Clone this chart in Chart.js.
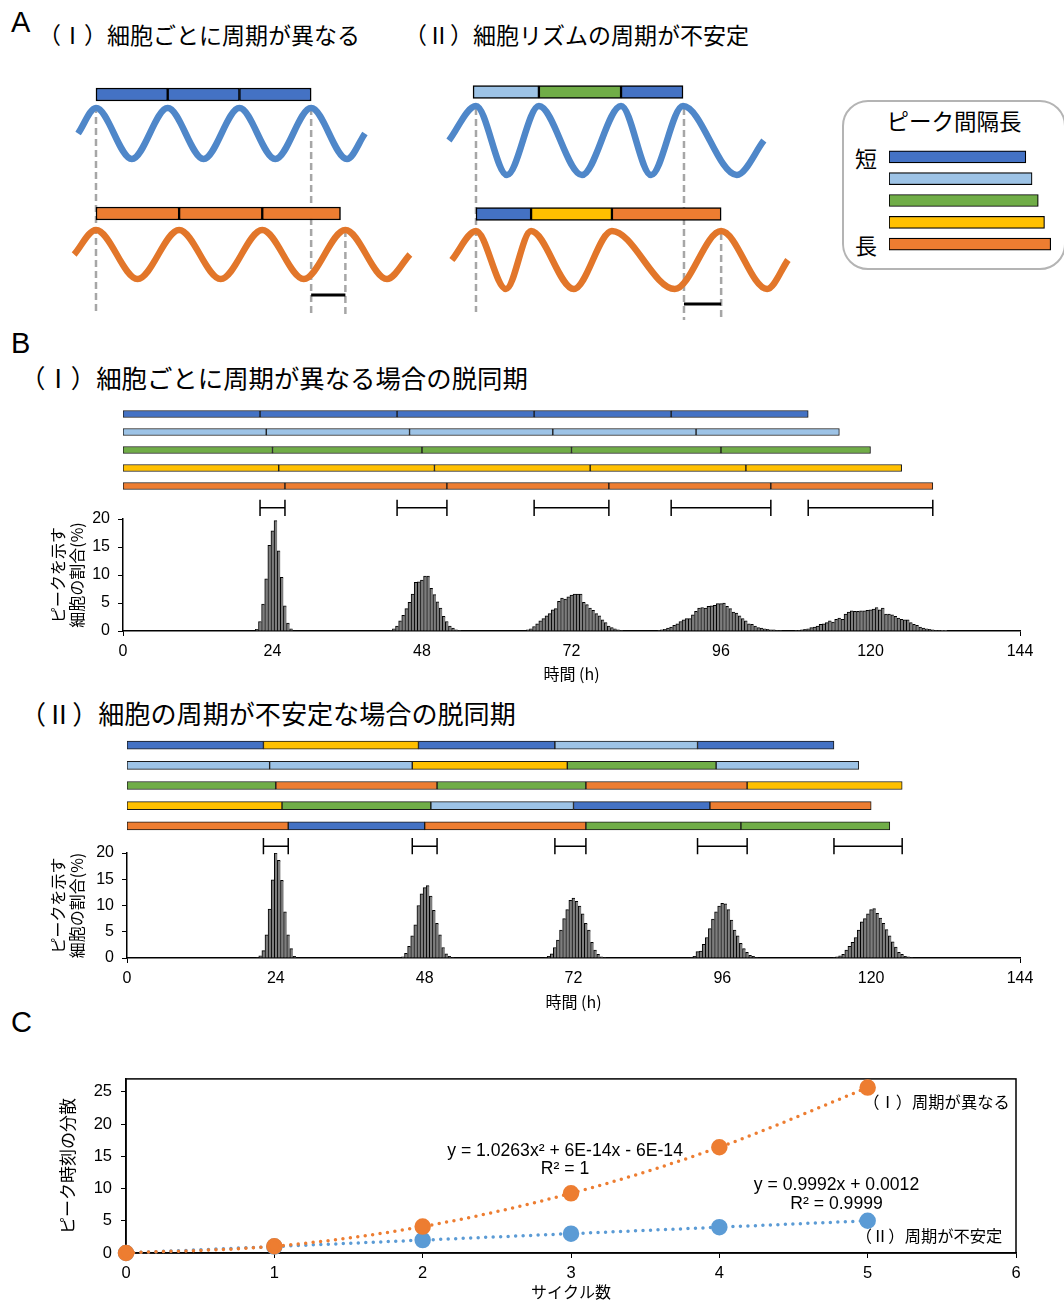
<!DOCTYPE html>
<html lang="ja">
<head>
<meta charset="utf-8">
<title>細胞リズムの脱同期</title>
<script src="https://cdn.jsdelivr.net/npm/chart.js@4.4.1/dist/chart.umd.min.js"></script>
<style>
  body { margin: 0; background: #fff; }
  #page { position: relative; width: 1064px; height: 1302px; overflow: hidden; color: #000;
          font-family: 'Liberation Sans', 'Noto Sans CJK JP', sans-serif; }
  #page canvas, .t { position: absolute; }
  .t { white-space: nowrap; line-height: 1; }
  .jp { font-family: 'Noto Sans CJK JP', sans-serif; }
  .panel { font-size: 29px; }
  #legendBox { position: absolute; left: 842px; top: 100px; width: 224px; height: 170px;
               border: 2px solid #b4b4b4; border-radius: 26px; box-sizing: border-box; }
</style>
</head>
<body>
<div id="page">
  <div id="legendBox"></div>

  <div class="t panel" style="left:11px;top:8px">A</div>
  <div class="t jp" style="left:38px;top:23px;font-size:23px">（Ⅰ）細胞ごとに周期が異なる</div>
  <div class="t jp" style="left:404px;top:23px;font-size:23px">（Ⅱ）細胞リズムの周期が不安定</div>
  <div class="t jp" style="left:842px;top:109px;width:224px;text-align:center;font-size:22.5px">ピーク間隔長</div>
  <div class="t jp" style="left:855px;top:146px;font-size:22px">短</div>
  <div class="t jp" style="left:855px;top:233px;font-size:22px">長</div>

  <div class="t panel" style="left:11px;top:329px">B</div>
  <div class="t jp" style="left:20px;top:365px;font-size:25.4px">（Ⅰ）細胞ごとに周期が異なる場合の脱同期</div>
  <div class="t jp" style="left:20px;top:700px;font-size:26.1px">（Ⅱ）細胞の周期が不安定な場合の脱同期</div>

  <div class="t panel" style="left:11px;top:1008px">C</div>

  <canvas id="schemeI" width="360" height="250" style="left:60px;top:80px"></canvas>
  <canvas id="schemeII" width="360" height="250" style="left:440px;top:80px"></canvas>
  <canvas id="legendBars" width="178" height="109" style="left:886px;top:146px"></canvas>

  <canvas id="rowsI" width="907" height="90" style="left:118px;top:405px"></canvas>
  <canvas id="histI" width="1010" height="200" style="left:40px;top:495px"></canvas>
  <canvas id="rowsII" width="903" height="101" style="left:122px;top:735px"></canvas>
  <canvas id="histII" width="1010" height="192" style="left:40px;top:830px"></canvas>

  <canvas id="variance" width="1010" height="242" style="left:40px;top:1060px"></canvas>
</div>

<script>
// ピーク間隔（h）：短 → 長
const periods = [22, 23, 24, 25, 26];
const periodColors = ['#4472C4', '#9DC3E6', '#70AD47', '#FFC000', '#ED7D31'];

// A 模式図：ピークと谷の時刻 (h)、描き始めと描き終わり
const waveI1 = { peaks: [0, 22, 44, 66], troughs: [11, 33, 55, 77], from: -5.5, to: 82.5 };
const waveI2 = { peaks: [0, 25.5, 51, 76.5], troughs: [12.75, 38.25, 63.75, 89.25], from: -6.7, to: 96.3 };
const waveII1 = { peaks: [0, 19.3, 44.5, 63.5], troughs: [9.5, 32.5, 53.7, 80], from: -8.3, to: 88.3 };
const waveII2 = { peaks: [0, 16.9, 41.7, 75.2], troughs: [9.2, 30, 61, 89.3], from: -7.4, to: 95.7 };
// 区間の境界 (h) と色番号
const barI1 = { edges: [0, 22, 44, 66], colors: [0, 0, 0] };
const barI2 = { edges: [0, 25.5, 51, 75], colors: [4, 4, 4] };
const barII1 = { edges: [-0.9, 19.3, 44.5, 63.5], colors: [1, 2, 0] };
const barII2 = { edges: [0, 16.9, 41.7, 75.2], colors: [0, 3, 4] };
const guidesI = [0, 66, 76.5];
const guidesII = [0, 63.8, 75.2];

// B 各細胞のピーク間隔 (h)
const cyclesI = [
  [22, 22, 22, 22, 22],
  [23, 23, 23, 23, 23],
  [24, 24, 24, 24, 24],
  [25, 25, 25, 25, 25],
  [26, 26, 26, 26, 26]
];
const colorsI = [
  [0, 0, 0, 0, 0],
  [1, 1, 1, 1, 1],
  [2, 2, 2, 2, 2],
  [3, 3, 3, 3, 3],
  [4, 4, 4, 4, 4]
];
const cyclesII = [
  [22, 25, 22, 23, 22],
  [23, 23, 25, 24, 23],
  [24, 26, 24, 26, 25],
  [25, 24, 23, 22, 26],
  [26, 22, 26, 25, 24]
];
const colorsII = [
  [0, 3, 0, 1, 0],
  [1, 1, 3, 2, 1],
  [2, 4, 2, 4, 3],
  [3, 2, 1, 0, 4],
  [4, 0, 4, 2, 2]
];

// B ヒストグラム：0.5 h 刻み、各ピークの開始時刻と割合 (%)
const binWidth = 0.5;
const timeTicks = [0, 24, 48, 72, 96, 120, 144];
const histI1 = [0.3, 1.7, 4.8, 9.3, 15.3, 17.9, 19.7, 14.3, 9.6, 4.5, 1.4, 0.4];
const histI2 = [0.1, 0.4, 0.9, 1.8, 2.8, 4.0, 5.1, 6.6, 8.7, 8.8, 9.1, 9.8, 9.8, 7.6, 6.5, 5.2, 4.1, 2.6, 1.7, 0.9, 0.5, 0.2, 0.1];
const histI3 = [0.2, 0.4, 0.8, 1.3, 1.8, 2.2, 2.7, 3.1, 3.8, 4.0, 5.3, 5.9, 5.7, 6.1, 6.4, 6.6, 6.6, 6.6, 5.1, 4.7, 4.1, 3.7, 3.1, 2.7, 2.0, 1.5, 0.9, 0.6, 0.4, 0.2, 0.1];
const histI4 = [0.1, 0.2, 0.3, 0.5, 0.7, 1.0, 1.3, 1.7, 2.0, 2.2, 2.2, 2.9, 3.5, 4.1, 4.2, 4.1, 4.4, 4.5, 4.6, 4.9, 4.9, 5.0, 4.4, 4.0, 3.4, 3.2, 2.7, 2.2, 1.8, 1.3, 1.2, 0.9, 0.6, 0.5, 0.4, 0.3, 0.2, 0.2, 0.1, 0.1];
const histI5 = [0.1, 0.1, 0.2, 0.3, 0.4, 0.6, 0.7, 0.9, 1.2, 1.3, 1.5, 1.8, 1.6, 2.1, 2.3, 2.1, 3.0, 3.4, 3.6, 3.5, 3.5, 3.6, 3.6, 3.7, 3.8, 3.9, 4.2, 3.8, 4.1, 3.0, 3.0, 2.9, 2.6, 2.3, 2.1, 2.0, 2.0, 1.5, 1.2, 1.0, 0.7, 0.5, 0.4, 0.3, 0.2, 0.1, 0.1, 0.05, 0.05];
const histIStarts = [21.5, 43, 65, 86, 108];

const histII1 = [0.1, 0.4, 1.4, 4.4, 9.3, 14.9, 20.0, 18.6, 14.8, 8.8, 4.4, 1.8, 0.3];
const histII2 = [0.2, 0.9, 2.2, 4.2, 6.3, 10.0, 12.2, 13.4, 13.8, 11.8, 9.1, 6.6, 4.4, 2.0, 0.8, 0.3, 0.1];
const histII3 = [0.1, 0.3, 0.8, 2.0, 3.4, 5.3, 7.5, 9.2, 11.0, 11.4, 10.8, 9.9, 8.4, 6.6, 5.3, 3.0, 1.5, 0.7, 0.2, 0.1];
const histII4 = [0.1, 0.3, 1.2, 1.3, 2.6, 3.9, 5.6, 7.4, 8.8, 9.9, 10.4, 10.3, 9.2, 7.2, 5.3, 4.2, 2.8, 1.8, 1.1, 0.5, 0.3, 0.1];
const histII5 = [0.1, 0.2, 0.4, 0.7, 1.5, 2.2, 3.0, 3.9, 5.3, 6.9, 7.5, 8.4, 9.2, 9.4, 8.5, 7.6, 6.6, 5.4, 4.2, 3.1, 2.1, 1.1, 0.7, 0.3, 0.2, 0.1];
const histIIStarts = [21, 44.5, 67.5, 91, 114];

// C ピーク時刻の分散
const cycleNumbers = [0, 1, 2, 3, 4, 5];
const varianceI = [0, 1.05, 4.1, 9.25, 16.4, 25.65];
const varianceII = [0, 1.0, 2.0, 3.0, 4.0, 5.0];
const varianceTicks = [0, 5, 10, 15, 20, 25];

const fontLatin = "'Liberation Sans', 'Noto Sans CJK JP', sans-serif";
const fontJp = "'Noto Sans CJK JP', 'Liberation Sans', sans-serif";
Chart.defaults.font.family = fontLatin;
Chart.defaults.color = '#000';
Chart.defaults.animation = false;
Chart.defaults.responsive = false;
Chart.defaults.plugins.legend.display = false;
Chart.defaults.plugins.tooltip.enabled = false;

// ---------- A ----------
const aPxPerHour = 3.26;
const aMin = -11.04;

function wavePoints(w, center, amp) {
  const pts = [{ x: w.from, y: center }, { x: w.to, y: center }];
  w.peaks.forEach(t => pts.push({ x: t, y: center - amp }));
  w.troughs.forEach(t => pts.push({ x: t, y: center + amp }));
  return pts.sort((a, b) => a.x - b.x);
}

function scheme(id, s) {
  const ds = [];
  s.waves.forEach(w => ds.push({
    type: 'line', data: wavePoints(w.wave, w.center, w.amp), borderColor: w.color,
    borderWidth: 6.5, pointRadius: 0, cubicInterpolationMode: 'monotone', order: 1
  }));
  s.bars.forEach(b => {
    const data = [], colors = [];
    for (let i = 0; i < b.bar.edges.length - 1; i++) {
      data.push({ x: [b.bar.edges[i], b.bar.edges[i + 1]], y: b.y });
      colors.push(periodColors[b.bar.colors[i]]);
    }
    ds.push({ type: 'bar', indexAxis: 'y', data, backgroundColor: colors, borderColor: '#000',
      borderWidth: 1.5, borderSkipped: false, barThickness: 13, grouped: false, order: 2 });
  });
  s.guides.forEach(g => ds.push({
    type: 'line', data: [{ x: g.t, y: g.y0 }, { x: g.t, y: g.y1 }], borderColor: '#a6a6a6',
    borderWidth: 2.5, borderDash: [7, 4], pointRadius: 0, order: 3
  }));
  ds.push({ type: 'line', data: [{ x: s.scaleBar[0], y: s.scaleY }, { x: s.scaleBar[1], y: s.scaleY }],
    borderColor: '#000', borderWidth: 3, pointRadius: 0, order: 0 });

  new Chart(document.getElementById(id), {
    type: 'line',
    data: { datasets: ds },
    options: {
      layout: { padding: 0, autoPadding: false },
      scales: {
        x: { type: 'linear', display: false, offset: false, min: aMin, max: aMin + 360 / aPxPerHour },
        y: { type: 'linear', display: false, offset: false, reverse: true, min: 0, max: 250 }
      }
    }
  });
}

scheme('schemeI', {
  waves: [
    { wave: waveI1, center: 53.5, amp: 25.5, color: '#4f87c9' },
    { wave: waveI2, center: 174.5, amp: 24.5, color: '#e2762a' }
  ],
  bars: [{ bar: barI1, y: 14.5 }, { bar: barI2, y: 133.5 }],
  guides: [
    { t: guidesI[0], y0: 26, y1: 232 },
    { t: guidesI[1], y0: 28, y1: 236 },
    { t: guidesI[2], y0: 150, y1: 236 }
  ],
  scaleBar: [guidesI[1], guidesI[2]], scaleY: 215
});

scheme('schemeII', {
  waves: [
    { wave: waveII1, center: 60.5, amp: 34.5, color: '#4f87c9' },
    { wave: waveII2, center: 180, amp: 29, color: '#e2762a' }
  ],
  bars: [{ bar: barII1, y: 12 }, { bar: barII2, y: 134 }],
  guides: [
    { t: guidesII[0], y0: 28, y1: 232 },
    { t: guidesII[1], y0: 28, y1: 240 },
    { t: guidesII[2], y0: 153, y1: 240 }
  ],
  scaleBar: [guidesII[1], guidesII[2]], scaleY: 224
});

// 凡例：ピーク間隔の長さを棒で
new Chart(document.getElementById('legendBars'), {
  type: 'bar',
  data: {
    labels: periods.map(String),
    datasets: [{ data: periods, backgroundColor: periodColors, borderColor: '#000', borderWidth: 1.2,
      borderSkipped: false, barThickness: 12 }]
  },
  options: {
    indexAxis: 'y',
    layout: { padding: { left: 3 } },
    scales: { x: { display: false, min: 0, max: 175 / 6.22 }, y: { display: false } }
  }
});

// ---------- B ----------
function rowsChart(id, cycles, colorIdx, thickness) {
  const labels = cycles.map((_, i) => 'cell' + (i + 1));
  const data = [], colors = [];
  cycles.forEach((row, r) => {
    let t = 0;
    row.forEach((len, k) => {
      data.push({ x: [t, t + len], y: labels[r] });
      colors.push(periodColors[colorIdx[r][k]]);
      t += len;
    });
  });
  new Chart(document.getElementById(id), {
    type: 'bar',
    data: { labels, datasets: [{ data, backgroundColor: colors, borderColor: '#1a1a1a', borderWidth: 1,
      borderSkipped: false, barThickness: thickness, grouped: false }] },
    options: {
      indexAxis: 'y',
      layout: { padding: { left: 5, right: 5 } },
      scales: { x: { type: 'linear', display: false, min: 0, max: 144 }, y: { display: false } }
    }
  });
}

// 各サイクルでのピーク時刻の最小〜最大
function spreads(cycles) {
  const out = [];
  for (let k = 1; k <= cycles[0].length; k++) {
    const ends = cycles.map(row => row.slice(0, k).reduce((a, b) => a + b, 0));
    out.push([Math.min(...ends), Math.max(...ends)]);
  }
  return out;
}

function histChart(id, peaks, starts, cycles, o) {
  const pts = [];
  peaks.forEach((vals, p) => vals.forEach((v, i) => pts.push({ x: starts[p] + i * binWidth, y: v })));
  const datasets = [{
    type: 'bar', data: pts, backgroundColor: '#7d7d7d', borderColor: '#000',
    borderWidth: { left: 1, top: 1, right: 0, bottom: 0 }, borderSkipped: false,
    barPercentage: 1, categoryPercentage: 1, order: 1
  }];
  // 範囲を示す括弧（両端の縦線つき）
  const h = o.capHalf, y = o.bracketY;
  spreads(cycles).forEach(([a, b]) => datasets.push({
    type: 'line',
    data: [{ x: a, y: y + h }, { x: a, y: y - h }, { x: a, y }, { x: b, y }, { x: b, y: y + h }, { x: b, y: y - h }],
    borderColor: '#000', borderWidth: 1.5, pointRadius: 0, clip: false, order: 0
  }));
  new Chart(document.getElementById(id), {
    type: 'bar',
    data: { datasets },
    options: {
      layout: { padding: { top: o.padTop, right: 30, left: 0, bottom: 0 } },
      scales: {
        x: {
          type: 'linear', min: 0, max: 144, offset: false,
          afterBuildTicks: a => { a.ticks = timeTicks.map(v => ({ value: v })); },
          afterFit: a => { a.height = 64; },
          grid: { offset: false, drawOnChartArea: false, tickLength: 5,
            tickColor: c => (c.tick && (c.tick.value === 0 || c.tick.value === 144)) ? '#000' : 'rgba(0,0,0,0)' },
          border: { color: '#000', width: 1.5 },
          ticks: { font: { size: 16 }, color: '#000', padding: 6, maxRotation: 0 },
          title: { display: true, text: '時間 (h)', font: { size: 16, family: fontJp, lineHeight: 1.25 },
            color: '#000', padding: { top: 0, bottom: o.titleBottom } }
        },
        y: {
          min: 0, max: 20,
          afterFit: a => { a.width = o.yWidth; },
          grid: { drawOnChartArea: false, tickLength: 5, tickColor: '#000' },
          border: { color: '#000', width: 1.5 },
          ticks: { stepSize: 5, font: { size: 16 }, color: '#000', padding: 8 },
          title: { display: true, text: ['ピークを示す', '細胞の割合(%)'],
            font: { size: 16, family: fontJp, lineHeight: 1.2 }, color: '#000', padding: { top: 8, bottom: 0 } }
        }
      }
    }
  });
}

rowsChart('rowsI', cyclesI, colorsI, 7);
histChart('histI', [histI1, histI2, histI3, histI4, histI5], histIStarts, cyclesI,
  { padTop: 24, yWidth: 83, bracketY: 22, capHalf: 1.45, titleBottom: 11 });
rowsChart('rowsII', cyclesII, colorsII, 8);
histChart('histII', [histII1, histII2, histII3, histII4, histII5], histIIStarts, cyclesII,
  { padTop: 23, yWidth: 87, bracketY: 21.3, capHalf: 1.55, titleBottom: 10 });

// ---------- C ----------
const cNotes = [
  { text: 'y = 1.0263x² + 6E-14x - 6E-14', x: 2.96, y: 15.85, align: 'center' },
  { text: 'R² = 1', x: 2.96, y: 12.95, align: 'center' },
  { text: 'y = 0.9992x + 0.0012', x: 4.79, y: 10.5, align: 'center' },
  { text: 'R² = 0.9999', x: 4.79, y: 7.6, align: 'center' },
  { text: '（Ⅰ）周期が異なる', x: 4.97, y: 23.4, align: 'left', jp: true },
  { text: '（Ⅱ）周期が不安定', x: 4.92, y: 2.6, align: 'left', jp: true }
];

const framePlugin = {
  id: 'frame',
  beforeDatasetsDraw(chart) {
    const { ctx, chartArea: a } = chart;
    ctx.save();
    ctx.strokeStyle = '#000';
    ctx.lineWidth = 1.5;
    ctx.strokeRect(a.left, a.top, a.width, a.height);
    ctx.restore();
  }
};
const notesPlugin = {
  id: 'notes',
  afterDatasetsDraw(chart) {
    const { ctx, scales: { x, y } } = chart;
    ctx.save();
    ctx.fillStyle = '#000';
    ctx.textBaseline = 'middle';
    cNotes.forEach(n => {
      ctx.font = n.jp ? '16.3px ' + fontJp : '17.6px ' + fontLatin;
      ctx.textAlign = n.align;
      ctx.fillText(n.text, x.getPixelForValue(n.x), y.getPixelForValue(n.y));
    });
    ctx.restore();
  }
};

new Chart(document.getElementById('variance'), {
  type: 'scatter',
  data: {
    datasets: [
      { data: cycleNumbers.map((c, i) => ({ x: c, y: varianceI[i] })), showLine: true,
        borderColor: '#ED7D31', backgroundColor: '#ED7D31', pointBackgroundColor: '#ED7D31',
        pointBorderColor: '#ED7D31', pointRadius: 6.5, borderWidth: 3.5, borderDash: [0, 7.5],
        borderCapStyle: 'round', cubicInterpolationMode: 'monotone', clip: false },
      { data: cycleNumbers.map((c, i) => ({ x: c, y: varianceII[i] })), showLine: true,
        borderColor: '#5B9BD5', backgroundColor: '#5B9BD5', pointBackgroundColor: '#5B9BD5',
        pointBorderColor: '#5B9BD5', pointRadius: 6.5, borderWidth: 3.5, borderDash: [0, 7.5],
        borderCapStyle: 'round', clip: false }
    ]
  },
  options: {
    layout: { padding: { top: 17, right: 34, left: 0, bottom: 0 } },
    scales: {
      x: {
        min: 0, max: 6,
        afterFit: a => { a.height = 49; },
        grid: { drawOnChartArea: false, tickLength: 5, tickColor: '#000' },
        border: { color: '#000', width: 1.5 },
        ticks: { stepSize: 1, font: { size: 16.5 }, color: '#000', padding: 6 },
        title: { display: true, text: 'サイクル数', font: { size: 16, family: fontJp, lineHeight: 1.25 },
          color: '#000', padding: { top: 0, bottom: 0 } }
      },
      y: {
        min: 0, max: 27,
        afterBuildTicks: a => { a.ticks = varianceTicks.map(v => ({ value: v })); },
        afterFit: a => { a.width = 86; },
        grid: { drawOnChartArea: false, tickLength: 5, tickColor: '#000' },
        border: { color: '#000', width: 1.5 },
        ticks: { font: { size: 16.5 }, color: '#000', padding: 9 },
        title: { display: true, text: 'ピーク時刻の分散', font: { size: 17, family: fontJp, lineHeight: 1.25 },
          color: '#000', padding: { top: 17, bottom: 0 } }
      }
    }
  },
  plugins: [framePlugin, notesPlugin]
});
</script>
</body>
</html>
